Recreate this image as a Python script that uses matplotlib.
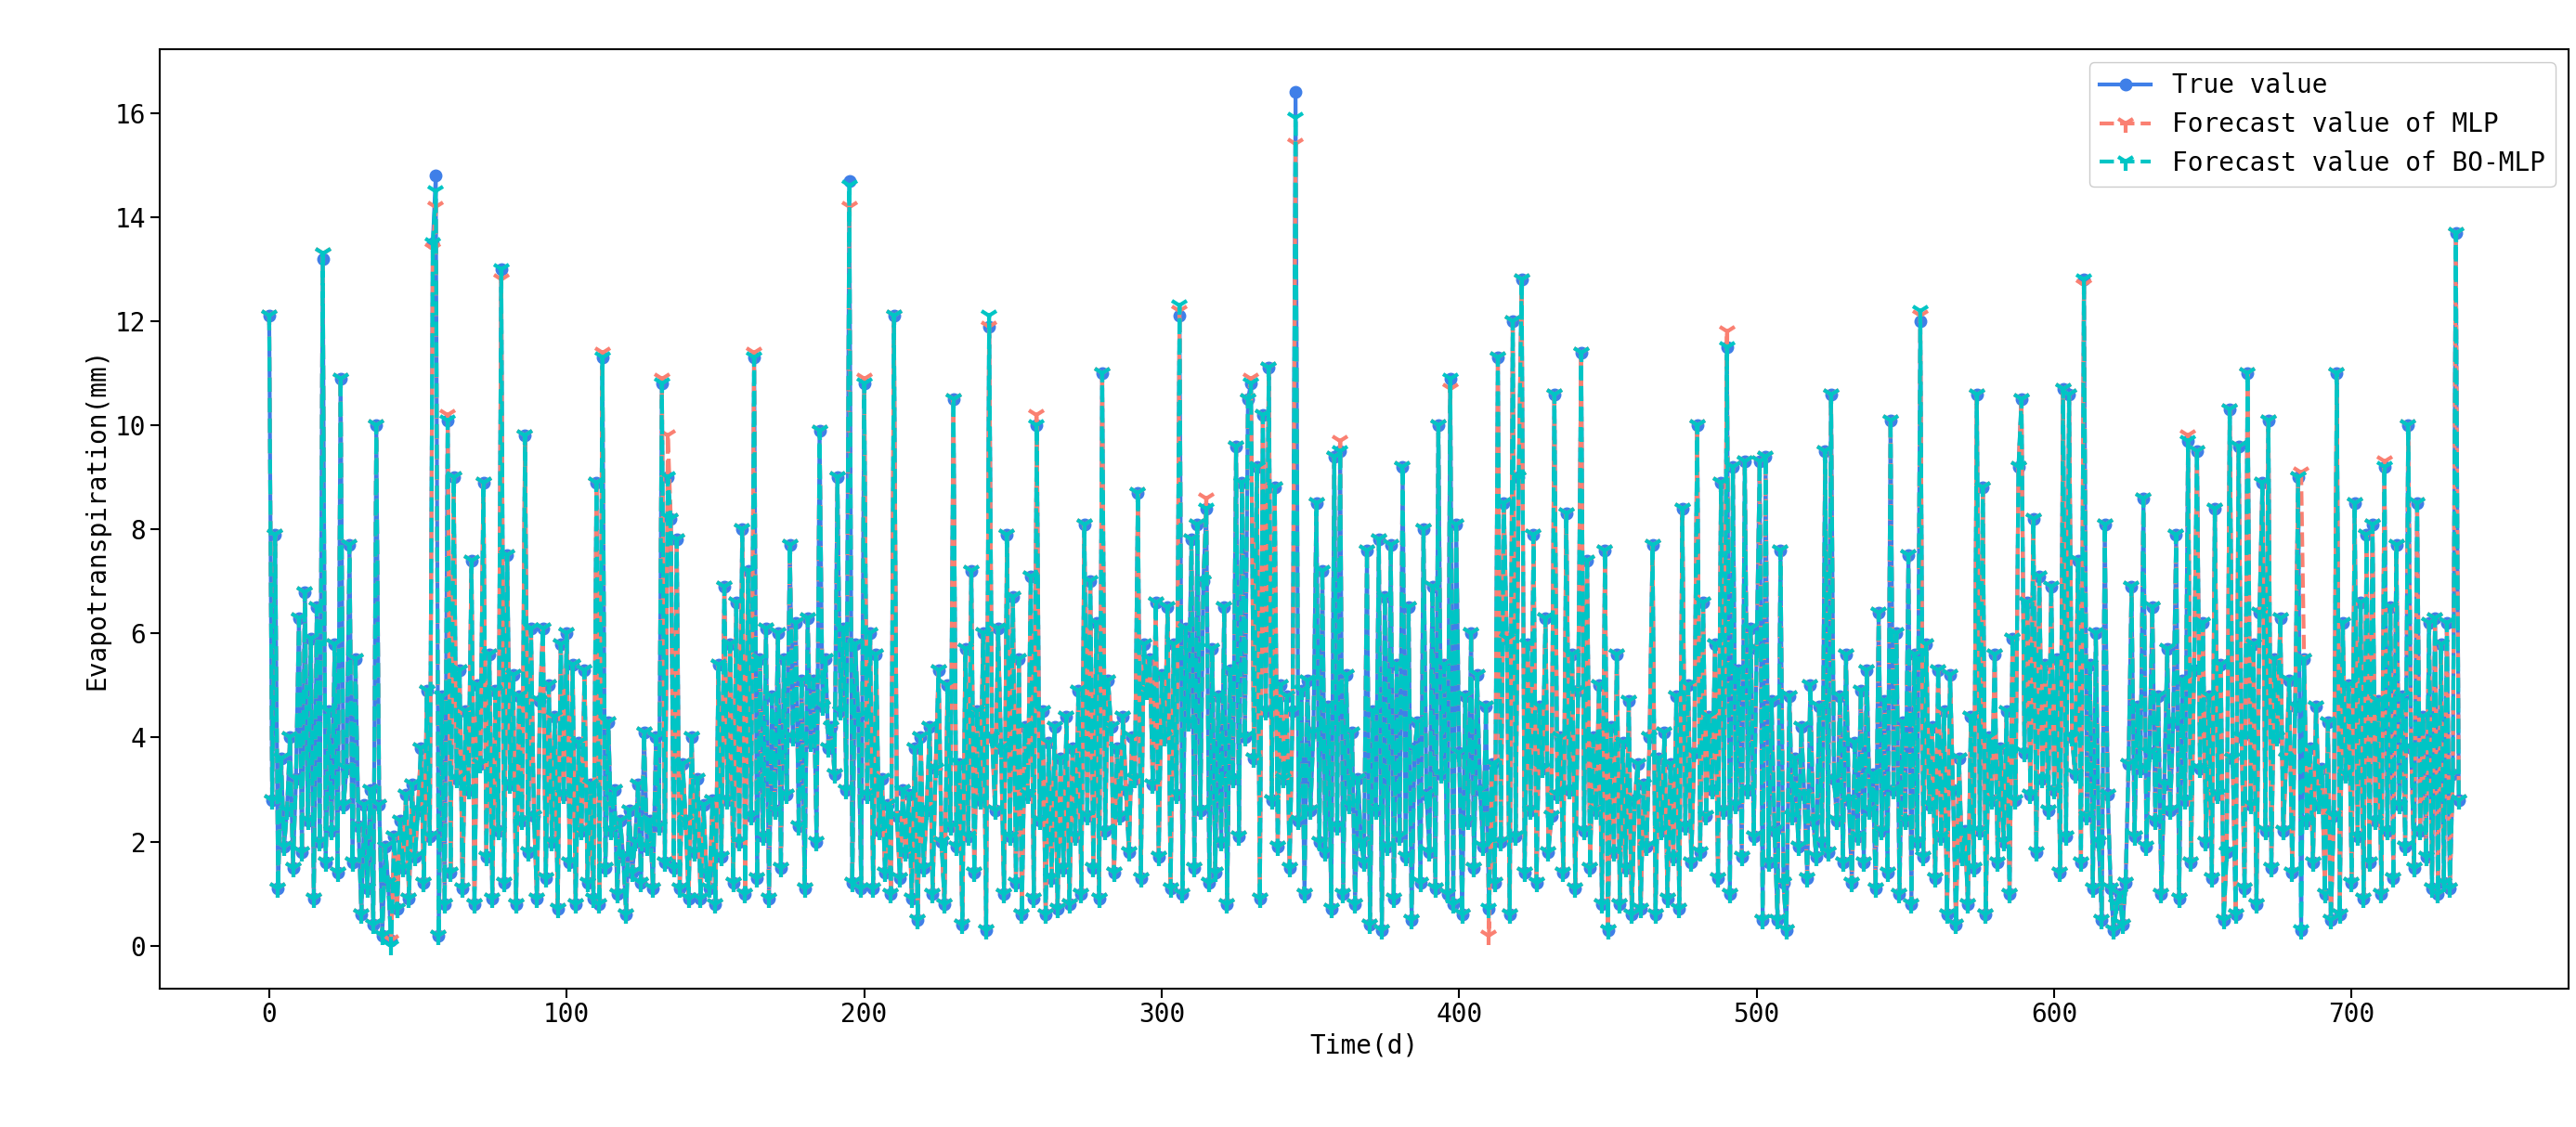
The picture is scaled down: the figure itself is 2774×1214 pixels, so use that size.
import numpy as np
import matplotlib
matplotlib.use('Agg')
import matplotlib.pyplot as plt

# daily evapotranspiration (mm)
true_value = [
    12.1, 2.8, 7.9, 1.1, 3.6, 1.9, 2.6, 4.0, 1.5, 3.2, 6.3, 1.8, 6.8, 2.4, 5.9, 0.9, 6.5, 2.0, 13.2, 1.6,
    4.5, 2.2, 5.8, 1.4, 10.9, 2.7, 3.4, 7.7, 1.6, 5.5, 2.3, 0.6, 2.7, 1.1, 3.0, 0.4, 10.0, 2.7, 0.2, 1.9,
    1.2, 0.1, 2.1, 0.7, 2.4, 1.5, 2.9, 0.9, 3.1, 1.7, 2.6, 3.8, 1.2, 4.9, 2.1, 13.5, 14.8, 0.2, 4.8, 0.8,
    10.1, 1.4, 9.0, 3.2, 5.3, 1.1, 4.5, 3.0, 7.4, 0.8, 5.0, 3.5, 8.9, 1.7, 5.6, 0.9, 4.9, 2.2, 13.0, 1.2,
    7.5, 3.1, 5.2, 0.8, 4.8, 2.4, 9.8, 1.8, 6.1, 2.5, 0.9, 4.7, 6.1, 1.3, 5.0, 2.0, 4.4, 0.7, 5.8, 2.9,
    6.0, 1.6, 5.4, 0.8, 3.9, 2.2, 5.3, 1.2, 3.1, 0.9, 8.9, 0.8, 11.3, 1.5, 4.3, 2.2, 3.0, 1.0, 2.4, 1.7,
    0.6, 2.6, 1.4, 2.0, 3.1, 1.2, 4.1, 1.9, 2.4, 1.1, 4.0, 2.3, 10.8, 1.6, 9.0, 8.2, 1.5, 7.8, 1.1, 3.5,
    2.4, 0.9, 4.0, 1.8, 3.2, 0.9, 2.7, 1.4, 1.1, 2.8, 0.8, 5.4, 1.7, 6.9, 2.8, 5.8, 1.2, 6.6, 2.0, 8.0,
    1.0, 7.2, 2.5, 11.3, 1.3, 5.5, 2.1, 6.1, 0.9, 4.8, 2.6, 6.0, 1.5, 5.5, 2.9, 7.7, 4.0, 6.2, 2.3, 5.1,
    1.1, 6.3, 3.9, 5.1, 2.0, 9.9, 4.6, 5.5, 3.8, 4.2, 3.3, 9.0, 4.5, 6.1, 3.0, 14.7, 1.2, 5.8, 4.4, 1.1,
    10.8, 2.9, 6.0, 1.1, 5.6, 2.2, 3.2, 1.4, 2.7, 1.0, 12.1, 2.5, 1.3, 3.0, 1.8, 2.9, 0.9, 3.8, 0.5, 4.0,
    1.5, 2.6, 4.2, 1.0, 3.4, 5.3, 2.0, 0.8, 5.0, 2.3, 10.5, 1.9, 3.5, 0.4, 5.7, 2.1, 7.2, 1.4, 4.5, 2.8,
    6.0, 0.3, 11.9, 4.0, 2.6, 6.1, 3.8, 1.0, 7.9, 2.1, 6.7, 1.2, 5.5, 0.6, 4.2, 2.9, 7.1, 0.9, 10.0, 2.4,
    4.5, 0.6, 3.9, 1.3, 4.2, 0.7, 3.6, 1.5, 4.4, 0.8, 3.8, 2.1, 4.9, 1.0, 8.1, 2.5, 7.0, 1.5, 6.2, 0.9,
    11.0, 2.2, 5.1, 4.2, 1.4, 3.8, 2.5, 4.4, 3.0, 1.8, 4.0, 3.2, 8.7, 1.3, 5.8, 4.9, 5.5, 3.1, 6.6, 1.7,
    5.2, 4.0, 6.5, 1.1, 5.8, 2.9, 12.1, 1.0, 6.1, 4.3, 7.8, 1.5, 8.1, 2.6, 7.0, 8.4, 1.2, 5.7, 1.4, 4.8,
    2.0, 6.5, 0.8, 5.3, 3.2, 9.6, 2.1, 8.9, 4.0, 10.5, 10.8, 3.6, 9.2, 0.9, 10.2, 4.5, 11.1, 2.8, 8.8, 1.9,
    5.0, 3.2, 4.8, 1.5, 4.5, 16.4, 2.4, 4.9, 1.0, 5.1, 2.6, 4.1, 8.5, 2.0, 7.2, 1.8, 4.6, 0.7, 9.4, 2.3,
    9.5, 1.0, 5.2, 2.7, 4.1, 0.8, 3.2, 2.0, 1.6, 7.6, 0.4, 4.5, 2.6, 7.8, 0.3, 6.7, 1.9, 7.7, 0.9, 5.4,
    2.1, 9.2, 1.7, 6.5, 0.5, 3.8, 4.3, 1.2, 8.0, 2.9, 1.8, 6.9, 1.1, 10.0, 3.3, 5.4, 1.0, 10.9, 0.8, 8.1,
    3.7, 0.6, 4.8, 2.4, 6.0, 1.5, 5.2, 3.0, 1.9, 4.6, 0.7, 3.5, 1.2, 11.3, 2.0, 8.5, 5.9, 0.6, 12.0, 2.1,
    9.0, 12.8, 1.4, 5.8, 2.6, 7.9, 1.2, 4.6, 3.4, 6.3, 1.8, 2.5, 10.6, 2.9, 4.0, 1.4, 8.3, 3.0, 5.6, 1.1,
    4.9, 11.4, 2.2, 7.4, 1.5, 4.0, 2.6, 5.0, 0.8, 7.6, 0.3, 4.2, 1.8, 5.6, 0.8, 3.9, 1.5, 4.7, 0.6, 2.8,
    3.5, 0.7, 3.1, 1.9, 4.0, 7.7, 0.6, 3.6, 2.2, 4.1, 0.9, 3.5, 1.7, 4.8, 0.7, 8.4, 2.3, 5.0, 1.6, 3.7,
    10.0, 1.8, 6.6, 2.5, 4.4, 3.0, 5.8, 1.3, 8.9, 2.6, 11.5, 1.0, 9.2, 2.7, 5.3, 1.7, 9.3, 3.0, 6.1, 2.1,
    5.7, 9.3, 0.5, 9.4, 1.6, 4.7, 2.2, 0.5, 7.6, 1.2, 0.3, 4.8, 2.5, 3.6, 1.9, 4.2, 2.9, 1.3, 5.0, 2.4,
    1.7, 4.6, 2.0, 9.5, 1.8, 10.6, 3.2, 2.4, 4.8, 1.6, 5.6, 2.8, 1.2, 3.9, 2.1, 4.9, 1.6, 5.3, 2.6, 3.3,
    1.1, 6.4, 2.2, 4.7, 1.4, 10.1, 3.0, 6.0, 1.0, 4.3, 2.4, 7.5, 0.8, 5.6, 2.0, 12.0, 1.7, 5.8, 2.7, 4.2,
    1.3, 5.3, 2.1, 4.5, 0.6, 5.2, 3.0, 0.4, 3.6, 1.7, 2.2, 0.8, 4.4, 1.5, 10.6, 2.2, 8.8, 0.6, 4.0, 2.8,
    5.6, 1.6, 3.8, 2.0, 4.5, 1.0, 5.9, 2.8, 9.2, 10.5, 3.7, 6.6, 2.9, 8.2, 1.8, 7.1, 3.2, 5.4, 2.6, 6.9,
    3.0, 5.5, 1.4, 10.7, 2.1, 10.6, 4.0, 3.3, 7.4, 1.6, 12.8, 2.5, 5.4, 1.1, 6.0, 2.0, 0.5, 8.1, 2.9, 1.1,
    0.3, 0.8, 1.0, 0.4, 1.2, 3.5, 6.9, 2.1, 4.6, 3.4, 8.6, 1.9, 3.7, 6.5, 2.4, 4.8, 1.0, 3.1, 5.7, 2.6,
    4.3, 7.9, 0.9, 5.1, 2.8, 9.7, 1.6, 5.3, 9.5, 3.4, 6.2, 2.0, 4.8, 1.3, 8.4, 2.9, 5.4, 0.5, 1.8, 10.3,
    3.6, 0.6, 9.6, 4.0, 1.1, 11.0, 2.7, 5.8, 0.8, 6.4, 8.9, 2.2, 10.1, 1.5, 5.5, 4.0, 6.3, 2.2, 3.6, 5.1,
    1.4, 4.6, 9.0, 0.3, 5.5, 2.4, 3.8, 1.6, 4.6, 2.7, 3.4, 1.0, 4.3, 0.5, 2.5, 11.0, 0.6, 6.2, 3.3, 5.0,
    1.2, 8.5, 2.1, 6.6, 0.9, 7.9, 1.6, 8.1, 2.4, 4.7, 1.0, 9.2, 2.2, 6.5, 1.3, 7.7, 2.7, 4.8, 1.9, 10.0,
    3.8, 1.5, 8.5, 2.2, 4.4, 1.7, 6.2, 1.1, 6.3, 1.0, 5.8, 1.2, 6.2, 1.1, 3.3, 13.7, 2.8,
]

# forecasts follow the true value except where they visibly differ (day: value)
mlp_diff = {18: 13.3, 55: 13.4, 56: 14.2, 60: 10.2, 78: 12.8, 112: 11.4, 132: 10.9, 134: 9.8,
            163: 11.4, 195: 14.2, 200: 10.9, 258: 10.2, 306: 12.2, 315: 8.6, 330: 10.9,
            345: 15.4, 360: 9.7, 397: 10.7, 410: 0.2, 490: 11.8, 555: 12.1, 610: 12.7,
            645: 9.8, 683: 9.1, 711: 9.3}
bo_diff = {18: 13.3, 56: 14.5, 195: 14.6, 242: 12.1, 306: 12.3, 345: 15.9, 555: 12.2,
           610: 12.8, 41: 0.0}

days = np.arange(len(true_value))
mlp_value = [mlp_diff.get(i, v) for i, v in enumerate(true_value)]
bo_value = [bo_diff.get(i, v) for i, v in enumerate(true_value)]

plt.rcParams['font.family'] = ['DejaVu Sans Mono']
fig = plt.figure(figsize=(27.74, 12.14), dpi=100)
ax = fig.add_axes([0.062, 0.123, 0.935, 0.833])

ax.plot(days, true_value, color='#3f7fe8', marker='o', markersize=9, linewidth=3,
        label='True value')
ax.plot(days, mlp_value, color='#fa8072', marker='1', markersize=14, markeredgewidth=3,
        linestyle='--', linewidth=3, label='Forecast value of MLP')
ax.plot(days, bo_value, color='#00c5c5', marker='1', markersize=14, markeredgewidth=3,
        linestyle='--', linewidth=3, label='Forecast value of BO-MLP')

ax.set_xlabel('Time(d)', fontsize=20)
ax.set_ylabel('Evapotranspiration(mm)', fontsize=20)
ax.set_yticks(range(0, 17, 2))
ax.set_xticks(range(0, 701, 100))
ax.tick_params(labelsize=20, width=1.5, length=7)
for s in ax.spines.values():
    s.set_linewidth(1.5)
ax.legend(loc='upper right', fontsize=20, framealpha=1, borderpad=0.4)

fig.savefig('out.png', dpi=100)
